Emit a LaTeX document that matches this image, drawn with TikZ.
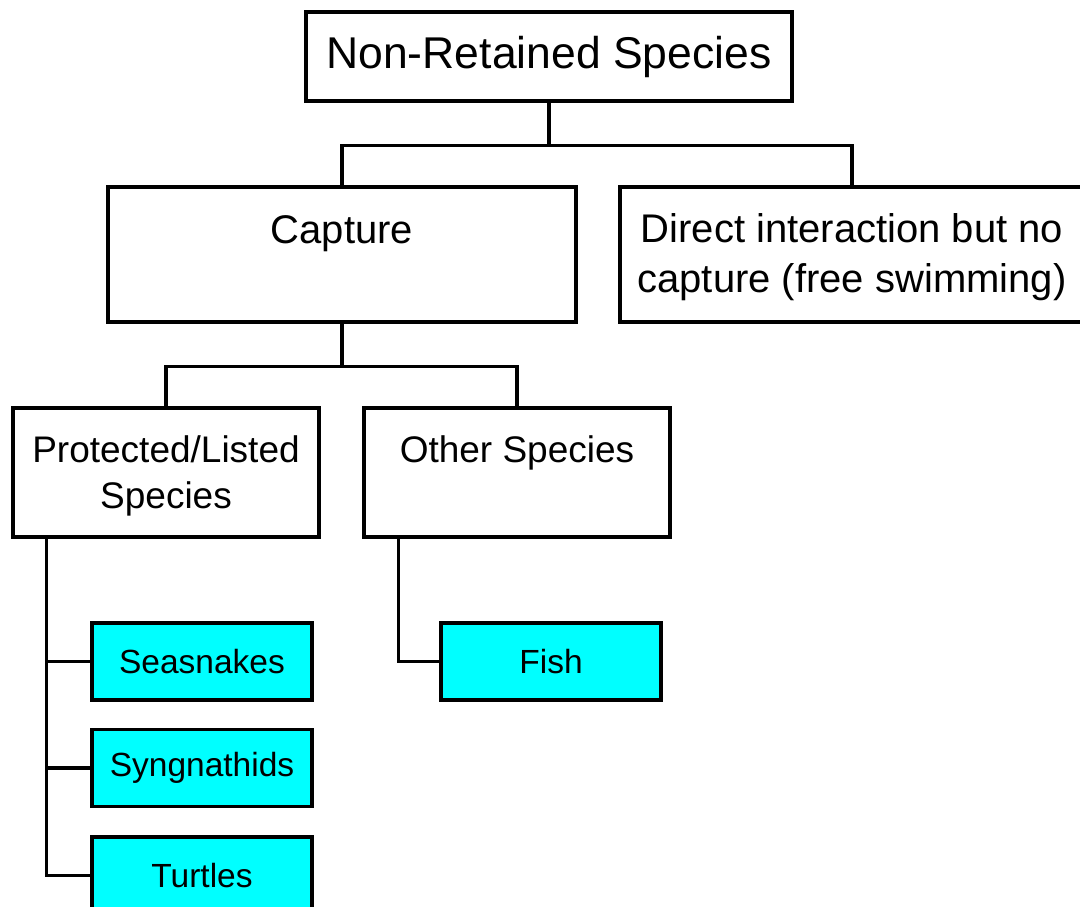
\documentclass[tikz,border=0pt]{standalone}
\usepackage{fontspec}
\setmainfont{Liberation Sans}
\definecolor{boxcyan}{HTML}{00FFFF}
\begin{document}
\begin{tikzpicture}[x=1pt,y=-1pt,
  box/.style={draw=black, line width=3.4pt, fill=white, inner sep=0pt, align=center, anchor=center},
  lvlA/.style={box, font=\fontsize{44.5}{54}\selectfont},
  lvlB/.style={box, font=\fontsize{40}{50}\selectfont},
  lvlC/.style={box, font=\fontsize{37}{46}\selectfont},
  leaf/.style={box, fill=boxcyan, minimum width=220pt, minimum height=77pt, font=\fontsize{33.5}{40}\selectfont},
  conn/.style={draw=black, line width=3.4pt}]
\useasboundingbox (0,0) rectangle (1080,907);
\clip (0,0) rectangle (1080,907);
\fill[white] (0,0) rectangle (1080,907);
% nodes
\node[lvlA, minimum width=486pt, minimum height=89pt] (top) at (549,56.5) {Non-Retained Species};
\node[lvlB, minimum width=468pt, minimum height=135pt] (cap) at (342,254.5) {Capture\\\mbox{}};
\node[lvlB, minimum width=464pt, minimum height=135pt, text depth=2pt] (dir) at (852,254.5) {Direct interaction but no\\capture (free swimming)};
\node[lvlC, minimum width=306pt, minimum height=129pt, text depth=0pt] (prot) at (166,472.5) {Protected/Listed\\Species};
\node[lvlC, minimum width=306pt, minimum height=129pt] (oth) at (517,472.5) {Other Species\\\mbox{}};
\node[leaf] (sea) at (202,661.5) {Seasnakes};
\node[leaf] (syn) at (202,768) {Syngnathids};
\node[leaf] (tur) at (202,875.5) {Turtles};
\node[leaf] (fish) at (551,661.5) {Fish};
% connectors
\coordinate (j1) at ([yshift=-43pt]top.south);
\coordinate (j2) at ([yshift=-43pt]cap.south);
\draw[conn] (top.south) -- (j1) -| (cap.north);
\draw[conn] (j1) -| (dir.north);
\draw[conn] (cap.south) -- (j2) -| (prot.north);
\draw[conn] (j2) -| (oth.north);
\coordinate (pv) at ([xshift=35pt]prot.south west);
\coordinate (ov) at ([xshift=36pt]oth.south west);
\draw[conn] (pv) |- (sea.west);
\draw[conn] (pv) |- (syn.west);
\draw[conn] (pv) |- (tur.west);
\draw[conn] (ov) |- (fish.west);
\end{tikzpicture}
\end{document}
